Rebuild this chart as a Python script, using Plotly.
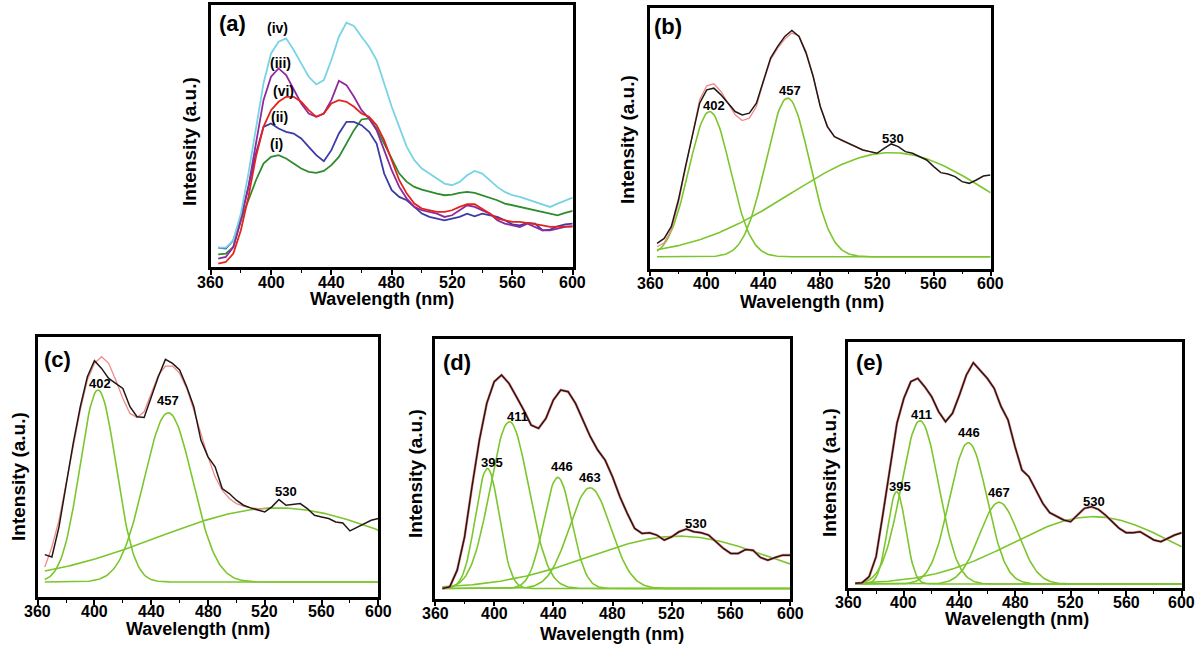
import numpy as np
import plotly.graph_objects as go

# ---------------- data (intensity in arbitrary units) ----------------
WL = list(range(365, 601, 5))          # wavelength grid of the measured spectra (nm)
WL_FIT = list(range(365, 521, 5))      # wavelength grid of the visible red fit curves (nm)

# panel (a) : measured PL spectra
A_I   = [38,40,60,140,200,260,310,330,335,325,310,295,285,282,288,305,330,370,410,442,445,415,370,320,
         280,255,240,232,225,220,215,217,222,225,222,215,208,200,190,185,180,175,170,165,160,155,162,168]
A_II  = [58,55,80,150,240,340,420,430,415,405,400,385,360,335,317,350,400,435,435,425,405,370,280,230,
         210,200,180,160,150,145,140,145,150,160,152,160,155,150,140,128,125,132,130,110,112,122,128,130]
A_III = [25,30,60,140,240,370,500,570,595,575,530,490,460,450,460,500,558,545,510,470,445,410,350,290,
         240,205,180,170,165,160,150,155,170,185,180,170,160,140,130,125,120,130,120,110,110,115,120,122]
A_IV  = [58,58,80,160,280,420,550,640,675,685,650,610,570,547,560,620,690,732,722,690,660,620,550,480,
         420,360,320,295,280,265,250,245,255,275,288,280,260,240,225,215,210,202,195,188,180,190,200,208]
A_VI  = [10,15,40,110,210,330,420,470,495,510,510,495,470,450,460,490,500,495,480,460,450,425,380,320,
         260,220,190,175,170,165,165,170,180,188,188,175,160,145,140,135,135,132,130,125,120,120,122,122]
A_NAMES = ["(i)", "(ii)", "(iii)", "(iv)", "(vi)"]

# panels (b)-(e) : measured spectra
B_DATA = [75,90,125,205,305,405,495,535,540,520,495,470,460,465,495,565,630,665,695,713,695,645,575,485,
          425,395,385,375,365,355,350,345,360,373,365,350,345,335,325,305,287,283,275,260,255,265,277,280]
C_DATA = [127,120,210,340,460,570,660,708,685,655,640,625,570,540,538,600,660,712,700,680,630,570,470,420,
          390,325,310,290,275,267,262,255,270,292,275,278,280,265,245,240,235,225,222,198,208,218,230,235]
D_DATA = [30,35,85,185,335,475,585,650,670,645,605,565,520,510,540,595,625,620,585,535,485,445,415,365,
          305,255,210,195,197,190,175,185,200,208,200,197,190,170,150,135,135,147,145,123,115,123,130,130]
E_DATA = [14,16,34,94,224,364,494,569,619,629,604,574,529,499,524,579,639,676,654,629,599,544,504,424,
          354,334,294,254,226,214,204,199,219,239,244,236,219,199,179,166,166,169,156,144,139,149,159,166]

# red cumulative fit curves where they are visible
B_FIT = [65,77,115,195,300,405,505,547,553,530,495,460,443,450,485,560,625,660,687,705,697,650,577,487,
         427,395,383,373,363,355,350,345]
C_FIT = [90,150,230,340,450,560,650,700,720,700,650,595,550,538,555,610,665,692,692,670,625,560,490,420,
         360,320,295,280,272,267,265,265]

# Gaussian fit components: label, centre (nm), height, width (sigma, nm)
B_LABELS = ["402", "457", "530"]
B_CENTER = [402, 457, 530]
B_HEIGHT = [435, 475, 312]
B_SIGMA  = [14.5, 15.3, 71]
B_BASE = 35

C_LABELS = ["402", "457", "530"]
C_CENTER = [402.5, 452, 529]
C_HEIGHT = [575, 507, 222]
C_SIGMA  = [12.7, 17, 84]
C_BASE = 45

D_LABELS = ["395", "411", "446", "463", "530"]
D_CENTER = [395.4, 410.3, 443, 464.8, 525]
D_HEIGHT = [360, 500, 333, 302, 157]
D_SIGMA  = [8, 13, 9.5, 14, 61]
D_BASE = 30

E_LABELS = ["395", "411", "446", "467", "530"]
E_CENTER = [394.8, 411.6, 446.4, 468.5, 536.4]
E_HEIGHT = [277, 490, 424, 245, 202]
E_SIGMA  = [6.5, 13.5, 13.5, 14, 58.5]
E_BASE = 12

X_TICKS = [360, 400, 440, 480, 520, 560, 600]
X_TICK_TEXT = ["360", "400", "440", "480", "520", "560", "600"]

# ---------------- styling / layout ----------------
W, H = 1200, 649
FONT = "Liberation Sans, Arial, sans-serif"
BLACK = "#231815"
RED_FIT = "#f08a8a"
GREEN = "#7cc62d"
A_COLORS = ["#2e8b2e", "#3b3ba8", "#8e2a9c", "#78d4e4", "#e3241e"]

def px(x):
    return x / W

def py(y):
    return 1 - y / H

# pixel boxes: left, right, top, bottom ; y range top ; tick-label row ; axis titles
PANELS = {
    "a": dict(box=(210.7, 572.7, 5, 267), ytop=785, tl=282, xt=(382, 299), yt=(189, 142)),
    "b": dict(box=(650, 990.5, 8, 268.5), ytop=780, tl=283, xt=(812, 302), yt=(628, 140)),
    "c": dict(box=(37.7, 378.3, 337, 597), ytop=779, tl=611, xt=(198, 629), yt=(18, 477)),
    "d": dict(box=(435, 790, 339, 598.5), ytop=778, tl=613, xt=(612, 634), yt=(415, 474)),
    "e": dict(box=(848.3, 1181.7, 342, 588), ytop=738, tl=602, xt=(1017, 619), yt=(830, 473)),
}
ORDER = ["a", "b", "c", "d", "e"]

fig = go.Figure()
layout = dict(width=W, height=H, margin=dict(l=0, r=0, t=0, b=0),
              paper_bgcolor="white", plot_bgcolor="white", showlegend=False)

def suffix(key):
    i = ORDER.index(key)
    return "" if i == 0 else str(i + 1)

for key in ORDER:
    n = suffix(key)
    l, r, t, b = PANELS[key]["box"]
    layout["xaxis" + n] = dict(
        domain=[px(l), px(r)], range=[360, 600], anchor="y" + n,
        tickvals=X_TICKS, ticks="outside", ticklen=5, tickwidth=1.5, tickcolor="black",
        showticklabels=False,
        minor=dict(dtick=20, tick0=360, ticks="outside", ticklen=3, tickcolor="black", tickwidth=1),
        showline=True, linecolor="black", linewidth=2.5, mirror=True,
        showgrid=False, zeroline=False)
    layout["yaxis" + n] = dict(
        domain=[py(b), py(t)], range=[0, PANELS[key]["ytop"]], anchor="x" + n,
        showticklabels=False, ticks="", showline=True, linecolor="black", linewidth=2.5,
        mirror=True, showgrid=False, zeroline=False)

def axes(key):
    n = suffix(key)
    return dict(xaxis="x" + n, yaxis="y" + n)

# panel (a)
for name, vals, col in zip(A_NAMES, [A_I, A_II, A_III, A_IV, A_VI], A_COLORS):
    fig.add_trace(go.Scatter(x=WL, y=vals, mode="lines", name=name,
                             line=dict(color=col, width=1.8), **axes("a")))

def fit_panel(key, data, fit, base, centers, heights, sigmas):
    xs = np.arange(365, 600.01, 1.0)
    for c, h, s in zip(centers, heights, sigmas):
        g = base + h * np.exp(-(xs - c) ** 2 / (2 * s ** 2))
        fig.add_trace(go.Scatter(x=xs, y=g, mode="lines",
                                 line=dict(color=GREEN, width=1.6), **axes(key)))
    if fit is not None:
        fig.add_trace(go.Scatter(x=WL_FIT, y=fit, mode="lines",
                                 line=dict(color=RED_FIT, width=1.3), **axes(key)))
    else:
        fig.add_trace(go.Scatter(x=WL, y=data, mode="lines",
                                 line=dict(color=RED_FIT, width=2.6), **axes(key)))
    fig.add_trace(go.Scatter(x=WL, y=data, mode="lines",
                             line=dict(color=BLACK, width=1.5), **axes(key)))

fit_panel("b", B_DATA, B_FIT, B_BASE, B_CENTER, B_HEIGHT, B_SIGMA)
fit_panel("c", C_DATA, C_FIT, C_BASE, C_CENTER, C_HEIGHT, C_SIGMA)
fit_panel("d", D_DATA, None, D_BASE, D_CENTER, D_HEIGHT, D_SIGMA)
fit_panel("e", E_DATA, None, E_BASE, E_CENTER, E_HEIGHT, E_SIGMA)

ann = []

def text(x, y, s, size, angle=0):
    ann.append(dict(x=px(x), y=py(y), xref="paper", yref="paper", text=s, showarrow=False,
                    textangle=angle, xanchor="center", yanchor="middle",
                    font=dict(family=FONT, size=size, color="black", weight="bold")))

# tick labels (placed as text so the row sits close to the axis like the original)
for key in ORDER:
    n = suffix(key)
    for v, s in zip(X_TICKS, X_TICK_TEXT):
        ann.append(dict(x=v, y=py(PANELS[key]["tl"]), xref="x" + n, yref="paper", text=s,
                        showarrow=False, xanchor="center", yanchor="middle",
                        font=dict(family=FONT, size=16, color="black", weight="bold")))

# panel letters
for s, (x, y) in zip(["(a)", "(b)", "(c)", "(d)", "(e)"],
                     [(232, 24), (668, 27), (57, 360), (457, 362), (869, 362)]):
    text(x, y, s, 22)

# axis titles
for key in ORDER:
    tx, ty = PANELS[key]["xt"]
    yx, yy = PANELS[key]["yt"]
    text(tx, ty, "Wavelength (nm)", 18)
    text(yx, yy, "Intensity (a.u.)", 19, angle=-90)

# roman labels in (a)
for s, (x, y) in zip(["(iv)", "(iii)", "(vi)", "(ii)", "(i)"],
                     [(277, 28), (280, 63), (283, 91), (279, 117), (276, 144)]):
    text(x, y, s, 14)

# peak labels
PEAK_POS = {
    "b": [(714, 105), (790, 91), (893, 138)],
    "c": [(100, 383), (168, 400), (286, 491)],
    "d": [(492, 462), (517, 416), (562, 467), (590, 477), (696, 523)],
    "e": [(900, 486), (921, 414), (969, 432), (999, 492), (1094, 501)],
}
for key, labels in [("b", B_LABELS), ("c", C_LABELS), ("d", D_LABELS), ("e", E_LABELS)]:
    for s, (x, y) in zip(labels, PEAK_POS[key]):
        text(x, y, s, 13)

layout["annotations"] = ann
fig.update_layout(**layout)
fig.write_html("out.html", config={"displayModeBar": False},
               post_script="document.body.style.margin='0';document.body.style.overflow='hidden';")
